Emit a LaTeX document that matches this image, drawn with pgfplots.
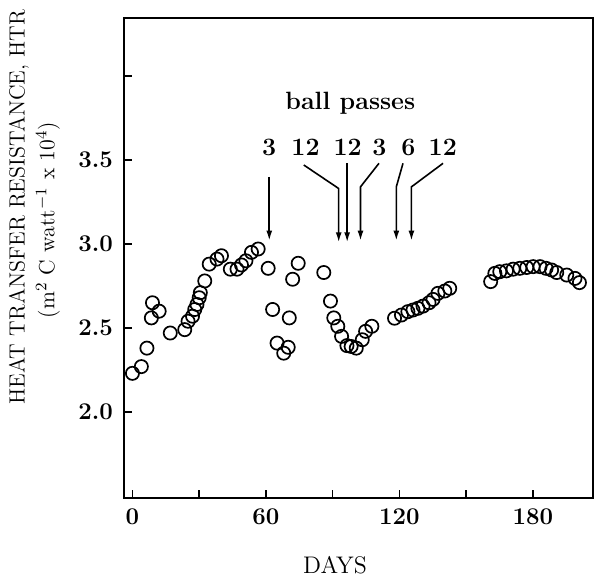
\documentclass[border=0pt]{standalone}
\usepackage{pgfplots}
\pgfplotsset{compat=1.18}
\usetikzlibrary{arrows.meta}
\begin{document}
\begin{tikzpicture}
\begin{axis}[
  scale only axis,
  width=234.5pt, height=240pt,
  xmin=-3.8, xmax=207,
  ymin=1.488, ymax=4.345,
  clip=false,
  axis line style={line width=1pt},
  tick style={line width=0.8pt, black},
  major tick length=4pt,
  tick align=inside,
  xtick pos=bottom, ytick pos=left,
  xtick={0,30,60,90,120,150,180},
  xticklabels={0,,60,,120,,180},
  ytick={2,2.5,3,3.5,4},
  yticklabels={2.0,2.5,3.0,3.5,},
  ticklabel style={font=\fontsize{12}{14}\selectfont\bfseries},
  xticklabel shift=2pt,
  yticklabel shift=2pt,
]
\addplot[only marks, mark=o, mark size=3.3pt, mark options={line width=0.85pt, black}] coordinates {
(0,2.23) (4,2.27) (6.5,2.38) (8.5,2.56) (9,2.65) (12,2.60) (17,2.47)
(23.5,2.49) (25,2.54) (27,2.57) (28,2.61) (29,2.64) (30,2.68) (30.5,2.71)
(32.5,2.78) (34.5,2.88) (38,2.91) (40,2.93) (44,2.85) (47,2.85) (49,2.875)
(51,2.90) (53.5,2.95) (56.5,2.97) (61,2.855) (63,2.61) (65,2.41) (68,2.35)
(70,2.385) (70.5,2.56) (72,2.79) (74.5,2.885) (86,2.83) (89,2.66) (90.5,2.56)
(92.3,2.51) (94,2.45) (96.4,2.395) (98.3,2.39) (100.6,2.38) (103.3,2.43)
(104.8,2.48) (107.6,2.51) (117.8,2.558) (120.9,2.577) (123.8,2.597)
(126.1,2.607) (128.3,2.617) (130.6,2.63) (133.3,2.65) (135.1,2.67)
(137.3,2.706) (140.4,2.72) (142.6,2.736) (161,2.776) (162.9,2.825)
(165.1,2.835) (168.1,2.84) (171.1,2.85) (174.1,2.855) (177.2,2.86)
(180.1,2.865) (183.2,2.865) (185.9,2.855) (188.4,2.845) (190.7,2.83)
(195.2,2.815) (198.9,2.795) (200.9,2.77)
};
% annotations
\begin{scope}[line width=0.8pt, -{Latex[length=5pt,width=3pt]}]
\draw (axis cs:61.5,3.40) -- (axis cs:61.5,3.02);
\draw (axis cs:77,3.47) -- (axis cs:92.7,3.33) -- (axis cs:92.7,3.01);
\draw (axis cs:96.5,3.48) -- (axis cs:96.5,3.01);
\draw (axis cs:110.8,3.48) -- (axis cs:102.5,3.34) -- (axis cs:102.5,3.02);
\draw (axis cs:121.6,3.48) -- (axis cs:118.6,3.34) -- (axis cs:118.6,3.02);
\draw (axis cs:139.6,3.48) -- (axis cs:125.4,3.34) -- (axis cs:125.4,3.02);
\end{scope}
\begin{scope}[every node/.style={font=\fontsize{12.5}{14}\selectfont\bfseries, inner sep=0pt}]
\node at (axis cs:61.5,3.577) {3};
\node at (axis cs:77.8,3.577) {12};
\node at (axis cs:96.7,3.577) {12};
\node at (axis cs:111,3.577) {3};
\node at (axis cs:124,3.577) {6};
\node at (axis cs:139.5,3.577) {12};
\node at (axis cs:97.9,3.84) {ball passes};
\end{scope}
\node[rotate=90, font=\fontsize{11}{13}\selectfont, inner sep=0pt] at ([shift={(-52.5pt,145.5pt)}]rel axis cs:0,0) {HEAT TRANSFER RESISTANCE, HTR};
\node[rotate=90, font=\fontsize{11}{13}\selectfont, inner sep=0pt] at ([shift={(-38pt,139pt)}]rel axis cs:0,0) {(m$^{2}$ C watt$^{-1}$ x 10$^{4}$)};
\node[font=\fontsize{12}{14}\selectfont, inner sep=0pt] at ([shift={(105.5pt,-33.5pt)}]rel axis cs:0,0) {DAYS};
\end{axis}
\pgfresetboundingbox
\path[use as bounding box] ([shift={(-62pt,-42.5pt)}]current axis.south west) rectangle ([shift={(236pt,249pt)}]current axis.south west);
\end{tikzpicture}
\end{document}
